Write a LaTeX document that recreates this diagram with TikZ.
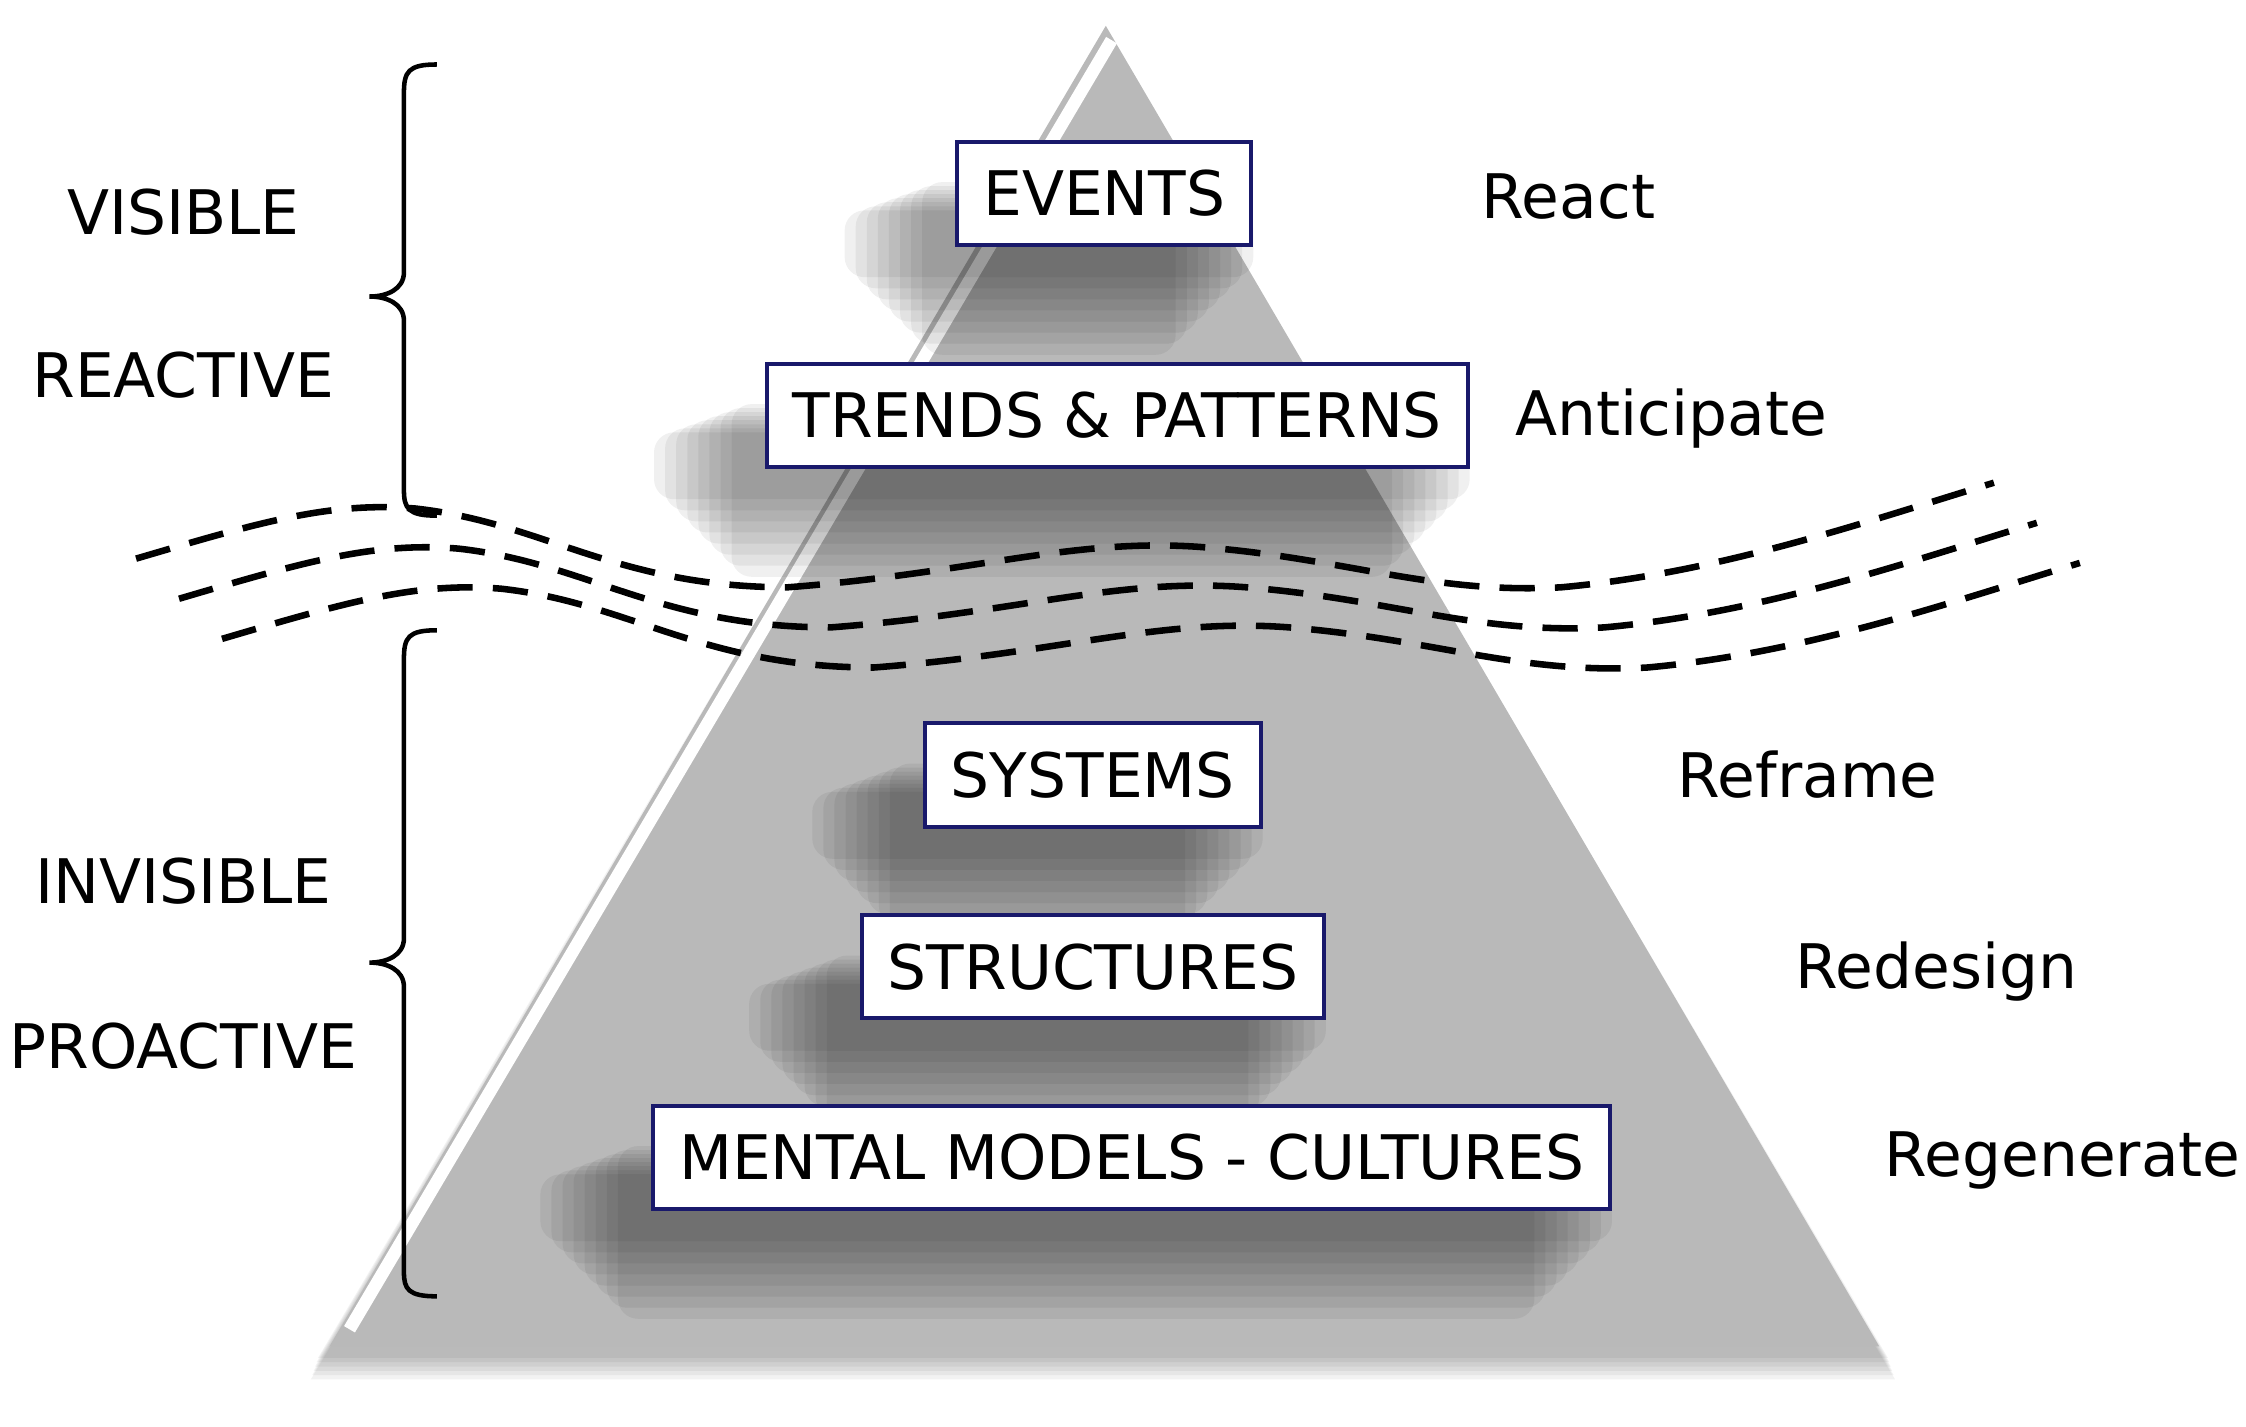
\documentclass[tikz,border=0pt]{standalone}
\usepackage{fontspec}
\setmainfont{DejaVu Sans}
\usetikzlibrary{shadows.blur}
\pgfdeclarelayer{bg}
\pgfdeclarelayer{shad}
\pgfsetlayers{bg,shad,main}
\newcommand{\boxshadow}[1]{%
  \begin{pgfonlayer}{shad}
  \foreach \i in {0,...,7}{
    \fill[black,opacity=0.06,rounded corners=4pt] ([xshift=-22+\i*2.2,yshift=-6-\i*2.2]#1.south west) rectangle ([xshift=-\i*2.2,yshift=-14+\i*0.8]#1.north east);}
  \end{pgfonlayer}}
\begin{document}
\begin{tikzpicture}[x=0.01cm,y=-0.01cm,
  box/.style={draw=black!60!blue!80!gray,line width=0.8pt,fill=white,minimum height=0.72cm,inner xsep=0.18cm,font=\fontsize{12.2}{14}\selectfont},
  lbl/.style={font=\fontsize{12.2}{14}\selectfont},
  wave/.style={dashed,dash pattern=on 7pt off 4pt,line width=1.3pt},
  brace/.style={line width=0.9pt}]
\useasboundingbox (0,0) rectangle (1568,996);
\begin{pgfonlayer}{bg}
\foreach \i in {0,...,5}{
\fill[black,opacity=0.05] (772,22+\i*2) -- (1318+\i,948+\i*3) -- (222-\i,948+\i*3) -- cycle;}
\fill[gray!55!white] (772,18) -- (1312,940) -- (230,940) -- cycle;
\draw[white,line width=2.5pt] (776,28) -- (244,928);
\end{pgfonlayer}
% waves
\foreach \dx/\dy in {0/0,30/28,60/56}{
\draw[wave] (95+\dx,390+\dy) .. controls (180+\dx,365+\dy) and (230+\dx,350+\dy) .. (290+\dx,355+\dy)
 .. controls (380+\dx,365+\dy) and (430+\dx,410+\dy) .. (550+\dx,410+\dy)
 .. controls (680+\dx,400+\dy) and (750+\dx,375+\dy) .. (840+\dx,382+\dy)
 .. controls (940+\dx,390+\dy) and (1000+\dx,415+\dy) .. (1090+\dx,410+\dy)
 .. controls (1200+\dx,400+\dy) and (1300+\dx,365+\dy) .. (1392+\dx,337+\dy);}
% boxes
\node[box] (ev) at (771,135) {EVENTS};
\node[box] (tr) at (780,290) {TRENDS \& PATTERNS};
\node[box] (sy) at (763,541) {SYSTEMS};
\node[box] (st) at (763,675) {STRUCTURES};
\node[box] (mm) at (790,808) {MENTAL MODELS - CULTURES};
\boxshadow{ev}\boxshadow{tr}\boxshadow{sy}\boxshadow{st}\boxshadow{mm}
% right labels
\node[lbl] (r1) at (1095,137) {React};
\node[lbl] (r2) at (1167,292) {Anticipate};
\node[lbl] (r3) at (1262,541) {Reframe};
\node[lbl] (r4) at (1352,678) {Redesign};
\node[lbl] (r5) at (1440,810) {Regenerate};
% left labels
\node[lbl] (l1) at (128,148) {VISIBLE};
\node[lbl] (l2) at (128,262) {REACTIVE};
\node[lbl] (l3) at (128,615) {INVISIBLE};
\node[lbl] (l4) at (128,730) {PROACTIVE};
% braces
\draw[brace] (305,45) .. controls (285,45) and (282,50) .. (282,65) -- (282,190) .. controls (282,202) and (270,207) .. (258,207)
  .. controls (270,207) and (282,212) .. (282,224) -- (282,342) .. controls (282,355) and (285,360) .. (305,360);
\draw[brace] (305,440) .. controls (285,440) and (282,445) .. (282,460) -- (282,655) .. controls (282,667) and (270,672) .. (258,672)
  .. controls (270,672) and (282,677) .. (282,689) -- (282,888) .. controls (282,900) and (285,905) .. (305,905);
\end{tikzpicture}
\end{document}
